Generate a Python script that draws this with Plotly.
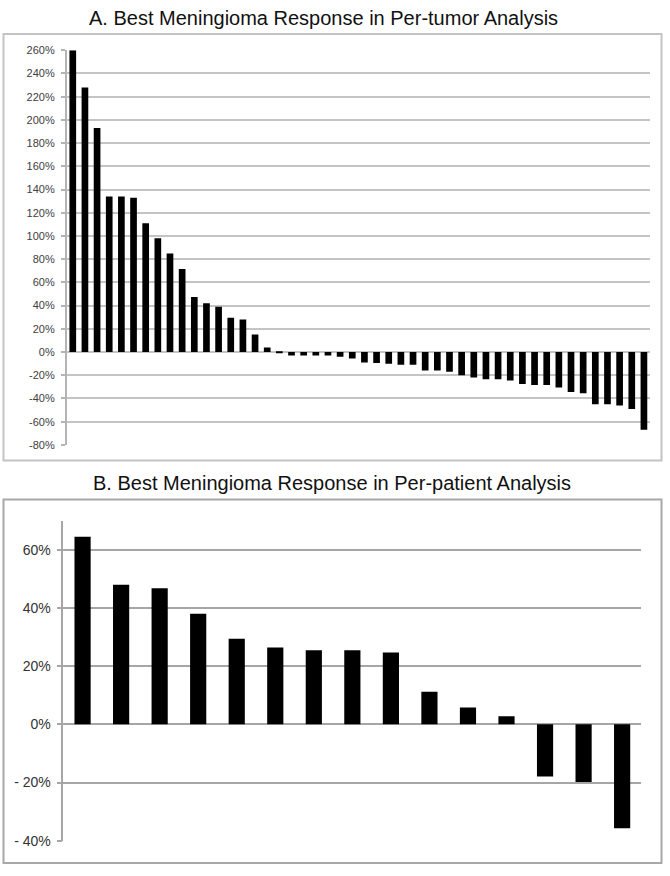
import plotly.graph_objects as go

# ── DATA ─────────────────────────────────────
# Panel A: per-tumor best response (%), 48 tumors, sorted
tumor_ids = [str(i) for i in range(1, 49)]
tumor_response = [
    260, 228, 193, 134, 134, 133, 111, 98, 85, 71.5,
    47.5, 42, 39, 29.5, 28, 15, 4, -0.5, -3, -3,
    -3, -3, -4, -5.5, -9, -9.5, -10, -11, -11, -16,
    -16, -17, -20, -22, -23.5, -23.5, -24.5, -27.5, -28.5, -28.5,
    -30.5, -34.5, -35.5, -45, -45, -46, -49, -67,
]

# Panel B: per-patient best response (%), 15 patients
patient_ids = [str(i) for i in range(1, 16)]
patient_response = [
    64.5, 48, 46.8, 38, 29.4, 26.4, 25.5, 25.5, 24.7,
    11.2, 5.8, 2.8, -17.9, -19.8, -35.7,
]

a_ticks = list(range(-80, 261, 20))
a_ticktext = [f"{v}%" for v in a_ticks]
b_ticks = [-40, -20, 0, 20, 40, 60]
b_ticktext = ["- 40%", "- 20%", "0%", "20%", "40%", "60%"]

# ── THEME ────────────────────────────────────
W, H = 670, 876
THEME = {
    "bar":      "#000000",
    "grid_a":   "#c4c4c4",
    "grid_b":   "#a6a6a6",
    "axis_a":   "#b4b4b4",
    "frame_a":  "#c4c4c4",
    "frame_b":  "#a8a8a8",
    "tick_a":   "#404040",
    "tick_b":   "#333333",
    "title":    "#111111",
}
FONT = "Liberation Sans, Arial, Helvetica, sans-serif"


def px_x(x):
    return x / W


def px_y(y):
    return 1 - y / H


fig = go.Figure()

# ── PANEL A ──────────────────────────────────
fig.add_trace(go.Bar(
    x=tumor_ids, y=tumor_response,
    marker=dict(color=THEME["bar"], line=dict(width=0)),
    width=0.55, xaxis="x", yaxis="y",
    hovertemplate="Tumor %{x}: %{y}%<extra></extra>",
))

# ── PANEL B ──────────────────────────────────
fig.add_trace(go.Bar(
    x=patient_ids, y=patient_response,
    marker=dict(color=THEME["bar"], line=dict(width=0)),
    width=0.42, xaxis="x2", yaxis="y2",
    hovertemplate="Patient %{x}: %{y}%<extra></extra>",
))

fig.update_layout(
    width=W, height=H,
    margin=dict(l=0, r=0, t=0, b=0),
    paper_bgcolor="white", plot_bgcolor="white",
    showlegend=False,
    font=dict(family=FONT),
    xaxis=dict(
        domain=[px_x(66.7), px_x(650)], anchor="y",
        type="category", showticklabels=False, ticks="",
        showgrid=False, showline=False, zeroline=False,
    ),
    yaxis=dict(
        domain=[px_y(446), px_y(45)], anchor="x",
        range=[-80, 260], tickvals=a_ticks, ticktext=a_ticktext,
        showgrid=True, gridcolor=THEME["grid_a"], gridwidth=1.5,
        zeroline=True, zerolinecolor=THEME["grid_a"], zerolinewidth=1.5,
        showline=True, linecolor=THEME["axis_a"], linewidth=1.5,
        ticks="outside", ticklen=4, tickcolor=THEME["axis_a"], tickwidth=1.5,
        tickfont=dict(size=11, color=THEME["tick_a"]),
        ticklabelstandoff=4,
    ),
    xaxis2=dict(
        domain=[px_x(63.3), px_x(641.4)], anchor="y2",
        type="category", showticklabels=False, ticks="",
        showgrid=False, showline=False, zeroline=False,
    ),
    yaxis2=dict(
        domain=[px_y(848.3), px_y(523)], anchor="x2",
        range=[-40, 70], tickvals=b_ticks, ticktext=b_ticktext,
        showgrid=True, gridcolor=THEME["grid_b"], gridwidth=2,
        zeroline=True, zerolinecolor=THEME["grid_b"], zerolinewidth=2,
        showline=True, linecolor=THEME["grid_b"], linewidth=1.5,
        ticks="outside", ticklen=5, tickcolor=THEME["grid_b"], tickwidth=2,
        tickfont=dict(size=14, color=THEME["tick_b"]),
        ticklabelstandoff=3,
    ),
)

# ── FRAMES ───────────────────────────────────
for (y0, y1, col) in [(28.5, 462, THEME["frame_a"]), (501.5, 871, THEME["frame_b"])]:
    fig.add_shape(
        type="rect", xref="paper", yref="paper",
        x0=px_x(3.5), x1=px_x(661.5), y0=px_y(y1), y1=px_y(y0),
        line=dict(color=col, width=2), fillcolor="rgba(0,0,0,0)",
        layer="below",
    )

# ── TITLES ───────────────────────────────────
titles = [
    ("A. Best Meningioma Response in Per-tumor Analysis", 86.7, 11.7),
    ("B. Best Meningioma Response in Per-patient Analysis", 90.7, 484.5),
]
for text, x, y in titles:
    fig.add_annotation(
        text=text, xref="paper", yref="paper",
        x=px_x(x), y=px_y(y), xanchor="left", yanchor="middle",
        showarrow=False,
        font=dict(size=20, color=THEME["title"], family=FONT),
    )

# body margin off so the 670x876 figure fills the window exactly
fig.write_html(
    "out.html",
    config={"displayModeBar": False},
    post_script="document.body.style.margin='0';document.body.style.overflow='hidden';",
)
